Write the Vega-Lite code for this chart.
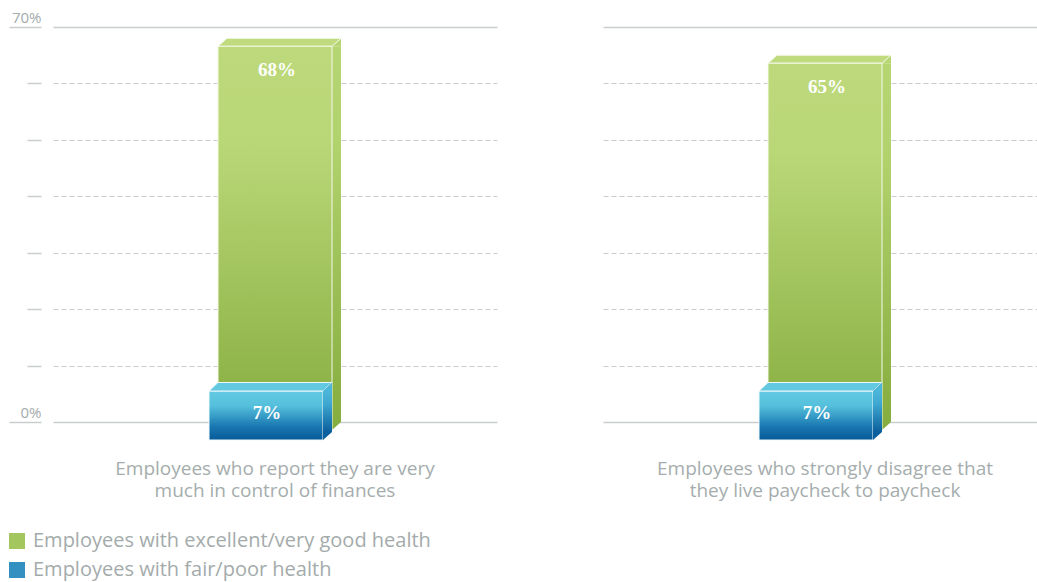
{
  "$schema": "https://vega.github.io/schema/vega-lite/v6.json",
  "autosize": {"type": "none"},
  "padding": {"left": 53, "top": 27, "right": 984, "bottom": 555},
  "background": "white",
  "config": {
    "view": {"stroke": null},
    "legend": {
      "orient": "none", "legendX": -46, "legendY": 504,
      "title": null, "symbolType": "square", "symbolSize": 256, "symbolStrokeWidth": 0,
      "labelFont": "Open Sans", "labelFontSize": 20, "labelColor": "#a4abab",
      "labelOffset": 6, "rowPadding": 9, "padding": 0, "labelLimit": 0
    }
  },
  "data": {"values": [
    {"panel": "Employees who report they are very|much in control of finances", "series": "Employees with excellent/very good health", "value": 68},
    {"panel": "Employees who report they are very|much in control of finances", "series": "Employees with fair/poor health", "value": 7},
    {"panel": "Employees who strongly disagree that|they live paycheck to paycheck", "series": "Employees with excellent/very good health", "value": 65},
    {"panel": "Employees who strongly disagree that|they live paycheck to paycheck", "series": "Employees with fair/poor health", "value": 7}
  ]},
  "transform": [{"calculate": "datum.value + '%'", "as": "label"}],
  "facet": {
    "column": {
      "field": "panel", "type": "nominal", "title": null,
      "sort": ["Employees who report they are very|much in control of finances", "Employees who strongly disagree that|they live paycheck to paycheck"],
      "header": {
        "labelOrient": "bottom", "labelFont": "Open Sans", "labelFontSize": 19, "labelColor": "#a5adad",
        "labelPadding": 19, "labelBaseline": "top", "labelLineHeight": 22,
        "labelExpr": "split(datum.label, '|')"
      }
    }
  },
  "spacing": 106,
  "spec": {
    "width": 444,
    "height": 395,
    "encoding": {
      "x": {"datum": "bar", "type": "nominal", "axis": null},
      "y": {
        "field": "value", "type": "quantitative", "title": null,
        "scale": {"domain": [0, 70], "nice": false},
        "axis": {
          "orient": "left", "offset": 0, "values": [0, 10, 20, 30, 40, 50, 60, 70], "title": null, "domain": false,
          "grid": true, "gridColor": "#c9cdcd",
          "gridDash": {"condition": {"test": "datum.value === 0 || datum.value === 70", "value": []}, "value": [5, 3]},
          "gridWidth": {"condition": {"test": "datum.value === 0 || datum.value === 70", "value": 1.5}, "value": 1},
          "tickColor": "#c9cdcd", "tickWidth": 1.5, "tickDash": [0, 12, 200],
          "tickSize": {"condition": {"test": "datum.value === 0 || datum.value === 70", "value": 44}, "value": 26},
          "labelExpr": "datum.value === 0 || datum.value === 70 ? datum.value + '%' : ''",
          "labelAlign": "right", "labelBaseline": "alphabetic", "labelOffset": -4.5, "labelPadding": -32,
          "labelFont": "Open Sans", "labelFontSize": 15, "labelColor": "#a3abab"
        }
      }
    },
    "layer": [
      {
        "transform": [{"filter": "datum.series === 'Employees with excellent/very good health'"}],
        "mark": {"type": "bar", "width": 9, "xOffset": 61.5, "yOffset": 8,
          "color": {"x1": 0, "y1": 0, "x2": 0, "y2": 1, "gradient": "linear",
            "stops": [{"offset": 0, "color": "#b6d573"}, {"offset": 0.25, "color": "#b2d26e"}, {"offset": 1, "color": "#86ad3f"}]}},
        "encoding": {"y2": {"datum": 0}}
      },
      {
        "transform": [{"filter": "datum.series === 'Employees with excellent/very good health'"}],
        "mark": {"type": "point", "shape": "M57,8L66,0L66,8Z", "size": 4, "filled": true, "opacity": 1, "color": "#b6d573", "strokeWidth": 0}
      },
      {
        "transform": [{"filter": "datum.series === 'Employees with excellent/very good health'"}],
        "mark": {"type": "point", "shape": "M57,0L66,0L57,8Z", "size": 4, "filled": true, "opacity": 1, "color": "#86ad3f", "strokeWidth": 0},
        "encoding": {"y": {"datum": 0, "type": "quantitative", "title": null}}
      },
      {
        "transform": [{"filter": "datum.series === 'Employees with excellent/very good health'"}],
        "mark": {"type": "point", "shape": "M-57,8L57,8L66,0L-48,0Z", "size": 4, "filled": true, "opacity": 1, "fill": "#bfdb7e", "stroke": "#f4f9ea", "strokeWidth": 1}
      },
      {
        "transform": [{"filter": "datum.series === 'Employees with excellent/very good health'"}],
        "mark": {"type": "bar", "width": 114, "yOffset": 8, "y2Offset": 8, "stroke": "#f4f9ea", "strokeWidth": 1,
          "color": {"x1": 0, "y1": 0, "x2": 0, "y2": 1, "gradient": "linear",
            "stops": [{"offset": 0, "color": "#bdd97b"}, {"offset": 0.25, "color": "#bad778"}, {"offset": 1, "color": "#86ad3f"}]}},
        "encoding": {"y2": {"datum": 0}}
      },
      {
        "transform": [{"filter": "datum.series === 'Employees with excellent/very good health'"}],
        "mark": {"type": "text", "font": "Liberation Serif", "fontSize": 19, "fontWeight": "bold", "color": "white", "baseline": "middle", "yOffset": 31.5, "xOffset": 2},
        "encoding": {"text": {"field": "label"}}
      },
      {
        "transform": [{"filter": "datum.series === 'Employees with fair/poor health'"}],
        "mark": {"type": "bar", "width": 114, "xOffset": -9, "yOffset": 8.5, "y2Offset": 18, "stroke": "#eef8fb", "strokeWidth": 1,
          "color": {"x1": 0, "y1": 0, "x2": 0, "y2": 1, "gradient": "linear",
            "stops": [{"offset": 0, "color": "#62cae1"}, {"offset": 0.3, "color": "#55c0dc"}, {"offset": 0.72, "color": "#1a78b2"}, {"offset": 1, "color": "#065a98"}]}},
        "encoding": {"y2": {"datum": 0}}
      },
      {
        "transform": [{"filter": "datum.series === 'Employees with fair/poor health'"}],
        "mark": {"type": "point", "shape": "M-57,8.5L57,8.5L66,0L-48,0Z", "size": 4, "xOffset": -9, "filled": true, "opacity": 1, "fill": "#62c9e0", "stroke": "#eef8fb", "strokeWidth": 1}
      },
      {
        "transform": [{"filter": "datum.series === 'Employees with fair/poor health'"}],
        "mark": {"type": "bar", "width": 9, "xOffset": 52.5, "yOffset": 8.5, "y2Offset": 10,
          "color": {"x1": 0, "y1": 0, "x2": 0, "y2": 1, "gradient": "linear",
            "stops": [{"offset": 0, "color": "#4cb6d9"}, {"offset": 0.3, "color": "#3fa8d2"}, {"offset": 1, "color": "#0b5f9c"}]}},
        "encoding": {"y2": {"datum": 0}}
      },
      {
        "transform": [{"filter": "datum.series === 'Employees with fair/poor health'"}],
        "mark": {"type": "point", "shape": "M57,8.5L66,0L66,8.5Z", "size": 4, "xOffset": -9, "filled": true, "opacity": 1, "color": "#4cb6d9", "strokeWidth": 0}
      },
      {
        "transform": [{"filter": "datum.series === 'Employees with fair/poor health'"}],
        "mark": {"type": "point", "shape": "M57,10L66,10L57,18Z", "size": 4, "xOffset": -9, "filled": true, "opacity": 1, "color": "#0b5f9c", "strokeWidth": 0},
        "encoding": {"y": {"datum": 0, "type": "quantitative", "title": null}}
      },
      {
        "transform": [{"filter": "datum.series === 'Employees with fair/poor health'"}],
        "mark": {"type": "text", "font": "Liberation Serif", "fontSize": 19, "fontWeight": "bold", "color": "white", "baseline": "middle", "yOffset": 30, "xOffset": -8},
        "encoding": {"text": {"field": "label"}}
      },
      {
        "transform": [{"filter": "datum.value < 0"}],
        "mark": {"type": "square", "opacity": 1},
        "encoding": {
          "color": {
            "field": "series", "type": "nominal",
            "scale": {
              "domain": ["Employees with excellent/very good health", "Employees with fair/poor health"],
              "range": ["#a3c65f", "#3590c2"]
            },
            "legend": {"symbolType": "square"}
          }
        }
      }
    ]
  }
}
